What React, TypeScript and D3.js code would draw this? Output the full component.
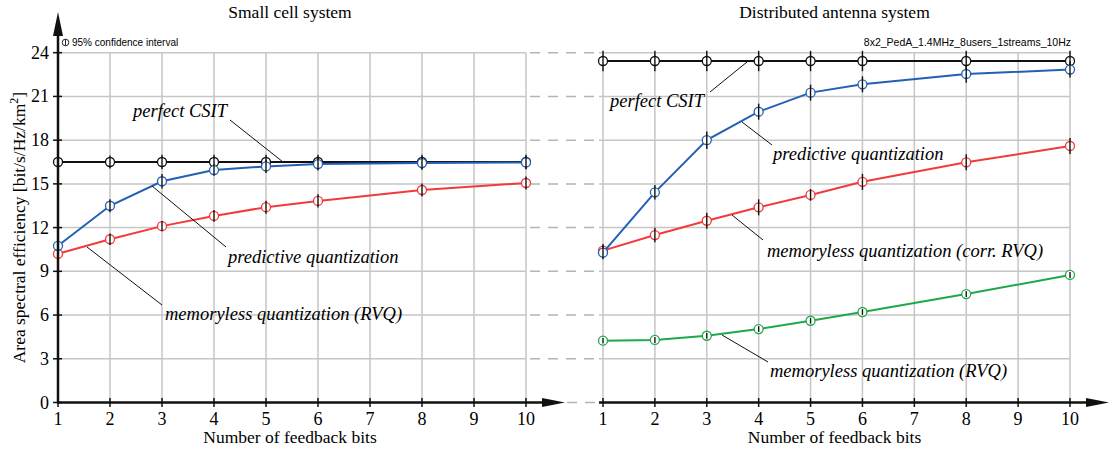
import React from "react";
import * as d3 from "d3";

// feedback bits where the simulation was run
const bits = [1, 2, 3, 4, 5, 6, 8, 10];
const xTicks = [1, 2, 3, 4, 5, 6, 7, 8, 9, 10];
const yTicks = [0, 3, 6, 9, 12, 15, 18, 21, 24];

// small cell system
const perfectSmall = [16.5, 16.5, 16.5, 16.5, 16.5, 16.5, 16.5, 16.5];
const perfectSmallCi = [0.45, 0.45, 0.5, 0.5, 0.5, 0.5, 0.5, 0.5];
const predictiveSmall = [10.75, 13.5, 15.18, 15.95, 16.2, 16.36, 16.43, 16.47];
const predictiveSmallCi = [0.3, 0.45, 0.5, 0.4, 0.45, 0.45, 0.45, 0.45];
const rvqSmall = [10.2, 11.2, 12.1, 12.8, 13.4, 13.83, 14.58, 15.06];
const rvqSmallCi = [0.25, 0.4, 0.35, 0.4, 0.45, 0.45, 0.45, 0.45];

// distributed antenna system
const perfectDas = [23.43, 23.43, 23.43, 23.43, 23.43, 23.43, 23.43, 23.43];
const perfectDasCi = [0.7, 0.7, 0.7, 0.7, 0.7, 0.7, 0.7, 0.7];
const predictiveDas = [10.28, 14.42, 18.0, 19.95, 21.26, 21.83, 22.54, 22.84];
const predictiveDasCi = [0.45, 0.5, 0.6, 0.55, 0.55, 0.55, 0.6, 0.55];
const corrRvqDas = [10.42, 11.49, 12.47, 13.39, 14.24, 15.14, 16.48, 17.6];
const corrRvqDasCi = [0.45, 0.5, 0.55, 0.55, 0.4, 0.55, 0.55, 0.55];
const rvqDas = [4.24, 4.29, 4.58, 5.04, 5.61, 6.21, 7.44, 8.75];
const rvqDasCi = [0.2, 0.2, 0.2, 0.2, 0.2, 0.2, 0.2, 0.2];

const BLACK = "#111";
const BLUE = "#2360b5";
const RED = "#f23a3a";
const GREEN = "#1fa84a";
const GRID = "#c6c6c6";

const serif = "Liberation Serif, DejaVu Serif, serif";
const sans = "Liberation Sans, DejaVu Sans, sans-serif";

const y = d3.scaleLinear().domain([0, 24]).range([402.5, 52.7]);
const xLeft = d3.scaleLinear().domain([1, 10]).range([58, 526]);
const xRight = d3.scaleLinear().domain([1, 10]).range([603, 1070]);

type Series = { values: number[]; ci: number[]; color: string };

const Series = ({ s, x }: { s: Series; x: d3.ScaleLinear<number, number> }) => {
  const line = d3
    .line<number>()
    .x((_, i) => x(bits[i]))
    .y((d) => y(d));
  return (
    <g>
      <path d={line(s.values) || ""} fill="none" stroke={s.color} strokeWidth={2} />
      {s.values.map((v, i) => (
        <circle key={i} cx={x(bits[i])} cy={y(v)} r={4.5} fill="#fff" stroke={s.color} strokeWidth={1.3} />
      ))}
      {s.values.map((v, i) => (
        <line
          key={"e" + i}
          x1={x(bits[i])}
          x2={x(bits[i])}
          y1={y(v - s.ci[i])}
          y2={y(v + s.ci[i])}
          stroke={BLACK}
          strokeWidth={1.4}
        />
      ))}
    </g>
  );
};

const Panel = ({
  x,
  title,
  series,
  gridLeft,
}: {
  x: d3.ScaleLinear<number, number>;
  title: string;
  series: Series[];
  gridLeft: number;
}) => {
  const [x0, x1] = x.range();
  const mid = (x0 + x1) / 2 - 2;
  return (
    <g>
      {/* grid */}
      {yTicks.slice(1).map((t) => (
        <line key={"h" + t} x1={gridLeft} x2={x1} y1={y(t)} y2={y(t)} stroke={GRID} strokeWidth={1.5} />
      ))}
      {xTicks.map((t) => (
        <line key={"v" + t} x1={x(t)} x2={x(t)} y1={y(0)} y2={y(24)} stroke={GRID} strokeWidth={1.5} />
      ))}
      {/* x axis */}
      <line x1={gridLeft} x2={x1 + 20} y1={y(0)} y2={y(0)} stroke={BLACK} strokeWidth={2.5} />
      <polygon
        points={`${x1 + 39},${y(0)} ${x1 + 16},${y(0) - 4.5} ${x1 + 16},${y(0) + 4.5}`}
        fill={BLACK}
      />
      {xTicks.map((t) => (
        <g key={"xt" + t}>
          <line x1={x(t)} x2={x(t)} y1={y(0) - 4.5} y2={y(0) + 4.5} stroke={BLACK} strokeWidth={1.5} />
          <text x={x(t)} y={425} textAnchor="middle" fontFamily={serif} fontSize={18}>
            {t}
          </text>
        </g>
      ))}
      <text x={mid} y={443} textAnchor="middle" fontFamily={serif} fontSize={17.5}>
        Number of feedback bits
      </text>
      <text x={mid} y={18} textAnchor="middle" fontFamily={serif} fontSize={17.5}>
        {title}
      </text>
      {series.map((s, i) => (
        <Series key={i} s={s} x={x} />
      ))}
    </g>
  );
};

const Label = ({ x, y: ty, text, line }: { x: number; y: number; text: string; line: number[] }) => (
  <g>
    <line x1={line[0]} y1={line[1]} x2={line[2]} y2={line[3]} stroke={BLACK} strokeWidth={1} />
    <text x={x} y={ty} fontFamily={serif} fontStyle="italic" fontSize={18.5}>
      {text}
    </text>
  </g>
);

export default function App() {
  return (
    <div style={{ position: "absolute", left: 0, top: 0 }}>
      <svg width={1110} height={451} style={{ display: "block", background: "#fff" }}>
        {/* dashed connectors between the panels */}
        {yTicks.map((t) => (
          <line
            key={"d" + t}
            x1={t === 0 ? 567 : xLeft(10) + 4}
            x2={600}
            y1={y(t)}
            y2={y(t)}
            stroke="#b4b4b4"
            strokeWidth={1.5}
            strokeDasharray="10,8"
          />
        ))}

        <Panel
          x={xLeft}
          gridLeft={58}
          title="Small cell system"
          series={[
            { values: rvqSmall, ci: rvqSmallCi, color: RED },
            { values: perfectSmall, ci: perfectSmallCi, color: BLACK },
            { values: predictiveSmall, ci: predictiveSmallCi, color: BLUE },
          ]}
        />
        <Panel
          x={xRight}
          gridLeft={599}
          title="Distributed antenna system"
          series={[
            { values: rvqDas, ci: rvqDasCi, color: GREEN },
            { values: corrRvqDas, ci: corrRvqDasCi, color: RED },
            { values: perfectDas, ci: perfectDasCi, color: BLACK },
            { values: predictiveDas, ci: predictiveDasCi, color: BLUE },
          ]}
        />

        {/* y axis */}
        <line x1={58} x2={58} y1={y(0) + 1} y2={30} stroke={BLACK} strokeWidth={2.5} />
        <polygon points={`58,12 53,36 63,36`} fill={BLACK} />
        {yTicks.map((t) => (
          <g key={"yt" + t}>
            <line x1={53} x2={62} y1={y(t)} y2={y(t)} stroke={BLACK} strokeWidth={1.5} />
            <text x={49} y={y(t) + 6} textAnchor="end" fontFamily={serif} fontSize={18}>
              {t}
            </text>
          </g>
        ))}
        <text
          transform={`translate(25,${(y(0) + y(24)) / 2}) rotate(-90)`}
          textAnchor="middle"
          fontFamily={serif}
          fontSize={17.5}
        >
          Area spectral efficiency [bit/s/Hz/km
          <tspan dy={-7} fontSize={12}>
            2
          </tspan>
          <tspan dy={7}>]</tspan>
        </text>

        {/* info labels */}
        <circle cx={65.5} cy={42.5} r={3.3} fill="none" stroke={BLACK} strokeWidth={0.9} />
        <line x1={65.5} x2={65.5} y1={39.5} y2={45.5} stroke={BLACK} strokeWidth={0.9} />
        <text x={72} y={46} fontFamily={sans} fontSize={10}>
          95% confidence interval
        </text>
        <text x={1071} y={46} textAnchor="end" fontFamily={sans} fontSize={10.5}>
          8x2_PedA_1.4MHz_8users_1streams_10Hz
        </text>

        {/* annotations */}
        <Label x={133} y={117} text="perfect CSIT" line={[230, 120, 283, 162]} />
        <Label x={228} y={263} text="predictive quantization" line={[152, 186, 226, 247]} />
        <Label x={165} y={320} text="memoryless quantization (RVQ)" line={[87, 247, 162, 305]} />
        <Label x={610} y={107} text="perfect CSIT" line={[747, 62, 710, 92]} />
        <Label x={773} y={160} text="predictive quantization" line={[742, 122, 772, 145]} />
        <Label x={767} y={257} text="memoryless quantization (corr. RVQ)" line={[732, 215, 763, 240]} />
        <Label x={770} y={377} text="memoryless quantization (RVQ)" line={[722, 335, 768, 362]} />
      </svg>
    </div>
  );
}
